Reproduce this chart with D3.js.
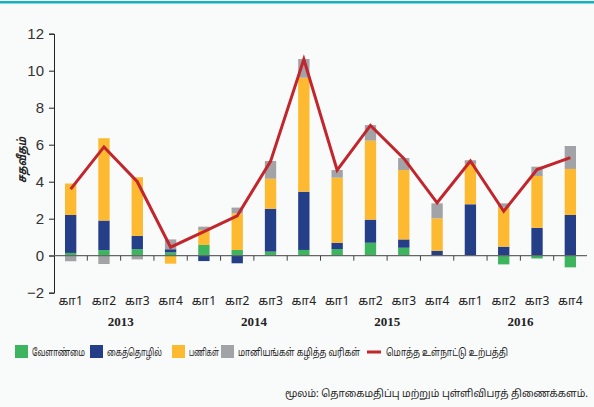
<!DOCTYPE html>
<html>
<head>
<meta charset="utf-8">
<script src="https://cdn.jsdelivr.net/npm/d3@7"></script>
<style>
  html, body { margin: 0; padding: 0; background: #f9fafa; }
  svg { display: block; }
  .tam { font-family: "Noto Sans Tamil", "Lohit Tamil", "Noto Serif Tamil", serif; }
</style>
</head>
<body>
<div id="chart"></div>
<script>
// quarters and years
const quarters = ['கா1','கா2','கா3','கா4','கா1','கா2','கா3','கா4','கா1','கா2','கா3','கா4','கா1','கா2','கா3','கா4']
const years = ['2013','2014','2015','2016']

// contribution of each sector (percentage points)
const agriculture = [0.15, 0.3, 0.35, 0.18, 0.58, 0.31, 0.22, 0.31, 0.36, 0.7, 0.43, 0.0, 0.0, -0.47, -0.15, -0.63]
const industry    = [2.05, 1.6, 0.72, 0.17, -0.29, -0.41, 2.32, 3.15, 0.34, 1.25, 0.45, 0.27, 2.78, 0.49, 1.51, 2.2]
const services    = [1.7, 4.45, 3.17, -0.43, 0.81, 1.98, 1.62, 6.16, 3.52, 4.27, 3.75, 1.75, 2.18, 2.11, 2.8, 2.49]
const taxes       = [-0.3, -0.45, -0.2, 0.53, 0.18, 0.31, 0.96, 1.01, 0.41, 0.84, 0.65, 0.81, 0.2, 0.23, 0.5, 1.24]
const gdp         = [3.6, 5.88, 4.0, 0.46, 1.3, 2.16, 5.1, 10.62, 4.62, 7.04, 5.26, 2.86, 5.12, 2.4, 4.66, 5.3]

const yTicks = [-2, 0, 2, 4, 6, 8, 10, 12]

const seriesNames = ['வேளாண்மை', 'கைத்தொழில்', 'பணிகள்', 'மானியங்கள் கழித்த வரிகள்']
const colors = ['#3cb55e', '#243f88', '#fdb930', '#a2a3a6']
const lineName = 'மொத்த உள்நாட்டு உற்பத்தி'
const lineColor = '#c3252d'
const source = 'மூலம்: தொகைமதிப்பு மற்றும் புள்ளிவிபரத் திணைக்களம்.'

const w = 594
const h = 407
const plotLeft = 54, plotRight = 587, plotTop = 33.7, plotBottom = 292.7

const table = quarters.map((q, i) => ({
  i: i, s0: agriculture[i], s1: industry[i], s2: services[i], s3: taxes[i]
}))

const stack = d3.stack()
  .keys(['s0', 's1', 's2', 's3'])
  .offset(d3.stackOffsetDiverging)
const stacked = stack(table)

const xScale = d3.scaleBand()
  .domain(d3.range(quarters.length))
  .range([plotLeft, plotRight])
  .paddingInner(0.66)
  .paddingOuter(0.33)

const yScale = d3.scaleLinear()
  .domain([-2, 12])
  .range([plotBottom, plotTop])

const svg = d3.select('#chart')
  .append('svg')
  .attr('width', w)
  .attr('height', h)

// teal line at the top
svg.append('rect')
  .attr('x', 0).attr('y', 1)
  .attr('width', w).attr('height', 2.5)
  .attr('fill', '#12b3bf')

// y-axis
const yAxis = d3.axisLeft(yScale)
  .tickValues(yTicks)
  .tickFormat(d3.format('d'))
  .tickSize(5)
  .tickSizeOuter(5)
  .tickPadding(5)
svg.append('g')
  .attr('transform', `translate(${plotLeft}, 0)`)
  .call(yAxis)
  .call(g => g.selectAll('text')
    .style('font-family', '"Liberation Sans", Arial, sans-serif')
    .style('font-size', '15px')
    .attr('fill', '#333'))
  .call(g => g.selectAll('path, line').attr('stroke', '#222'))

// bars
svg.append('g')
  .selectAll('g')
  .data(stacked)
  .enter()
  .append('g')
    .attr('fill', (d, i) => colors[i])
  .selectAll('rect')
  .data(d => d)
  .enter()
  .append('rect')
    .attr('x', d => xScale(d.data.i))
    .attr('y', d => yScale(Math.max(d[0], d[1])))
    .attr('width', xScale.bandwidth())
    .attr('height', d => Math.abs(yScale(d[0]) - yScale(d[1])))

// zero line with category ticks
const step = xScale.step()
svg.append('line')
  .attr('x1', plotLeft - 5).attr('x2', plotRight)
  .attr('y1', yScale(0)).attr('y2', yScale(0))
  .attr('stroke', '#666').attr('stroke-width', 1.2)
svg.append('g')
  .selectAll('line')
  .data(d3.range(1, quarters.length))
  .enter()
  .append('line')
    .attr('x1', d => plotLeft + d * step)
    .attr('x2', d => plotLeft + d * step)
    .attr('y1', yScale(0))
    .attr('y2', yScale(0) + 5)
    .attr('stroke', '#444')

// GDP line
const line = d3.line()
  .x((d, i) => xScale(i) + xScale.bandwidth() / 2)
  .y(d => yScale(d))
svg.append('path')
  .datum(gdp)
  .attr('d', line)
  .attr('fill', 'none')
  .attr('stroke', lineColor)
  .attr('stroke-width', 3)
  .attr('stroke-linejoin', 'miter')

// quarter labels
svg.append('g')
  .selectAll('text')
  .data(quarters)
  .enter()
  .append('text')
    .attr('class', 'tam')
    .attr('x', (d, i) => xScale(i) + xScale.bandwidth() / 2)
    .attr('y', 305)
    .attr('text-anchor', 'middle')
    .style('font-size', '12px')
    .attr('fill', '#222')
    .text(d => d)

// year labels
svg.append('g')
  .selectAll('text')
  .data(years)
  .enter()
  .append('text')
    .attr('x', (d, i) => plotLeft + step * (i * 4 + 2))
    .attr('y', 326)
    .attr('text-anchor', 'middle')
    .style('font-family', '"Liberation Serif", "Times New Roman", serif')
    .style('font-weight', 'bold')
    .style('font-size', '13px')
    .attr('fill', '#222')
    .text(d => d)

// y title
svg.append('text')
  .attr('class', 'tam')
  .attr('transform', 'rotate(-90)')
  .attr('x', -160)
  .attr('y', 26)
  .attr('text-anchor', 'middle')
  .attr('textLength', 46)
  .attr('lengthAdjust', 'spacingAndGlyphs')
  .style('font-size', '12px')
  .style('font-weight', 'bold')
  .style('font-style', 'italic')
  .attr('fill', '#222')
  .text('சதவீதம்')

// legend
const legendX = [15, 90, 172, 221]
const legendW = [53, 55, 30, 122]
const lg = svg.append('g')
seriesNames.forEach((name, i) => {
  lg.append('rect')
    .attr('x', legendX[i]).attr('y', 345)
    .attr('width', 13).attr('height', 13)
    .attr('fill', colors[i])
  lg.append('text')
    .attr('class', 'tam')
    .attr('x', legendX[i] + 17).attr('y', 356)
    .attr('textLength', legendW[i])
    .attr('lengthAdjust', 'spacingAndGlyphs')
    .style('font-size', '10.5px')
    .attr('fill', '#222')
    .text(name)
})
lg.append('line')
  .attr('x1', 367).attr('x2', 381)
  .attr('y1', 352).attr('y2', 352)
  .attr('stroke', lineColor).attr('stroke-width', 3)
lg.append('text')
  .attr('class', 'tam')
  .attr('x', 386).attr('y', 356)
  .attr('textLength', 122)
  .attr('lengthAdjust', 'spacingAndGlyphs')
  .style('font-size', '10.5px')
  .attr('fill', '#222')
  .text(lineName)

// source
svg.append('text')
  .attr('class', 'tam')
  .attr('x', 588).attr('y', 397)
  .attr('text-anchor', 'end')
  .style('font-size', '10px')
  .attr('fill', '#222')
  .text(source)
</script>
</body>
</html>
